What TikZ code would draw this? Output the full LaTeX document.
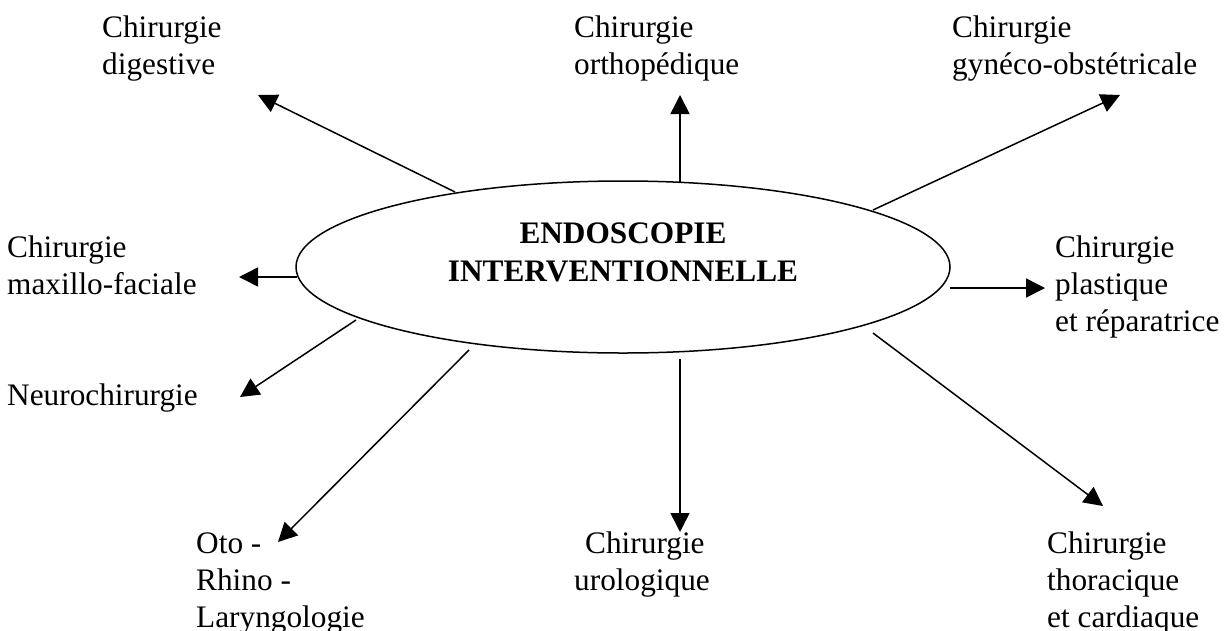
\documentclass[tikz,border=0pt]{standalone}
\usepackage{fontspec}
\setmainfont{Liberation Serif}
\usetikzlibrary{arrows.meta,shapes.geometric}
\begin{document}
\begin{tikzpicture}[x=1pt,y=-1pt,
  lbl/.style={anchor=base west,inner sep=0pt,align=left,font=\fontsize{31.3}{37}\selectfont},
  conn/.style={line width=1.5pt,-{Triangle[length=19pt,width=19pt]}}]
\useasboundingbox (0,0) rectangle (1226,630);
\node[draw,ellipse,line width=1.5pt,minimum width=654pt,minimum height=172pt,inner sep=0pt] (e) at (623,267) {};
\node[anchor=base,align=center,inner sep=0pt,font=\fontsize{31.3}{38}\selectfont\bfseries] (title) at (623,281) {ENDOSCOPIE\\INTERVENTIONNELLE};
% base anchor of a multi-line node lies on its last line
\node[lbl] (dig) at (102,74) {Chirurgie\\digestive};
\node[lbl] (ortho) at (574,74) {Chirurgie\\orthopédique};
\node[lbl] (gyn) at (952,74) {Chirurgie\\gynéco-obstétricale};
\node[lbl] (maxi) at (7,294) {Chirurgie\\maxillo-faciale};
\node[lbl] (plast) at (1055,331) {Chirurgie\\plastique\\et réparatrice};
\node[lbl] (neuro) at (7,405) {Neurochirurgie};
\node[lbl] (orl) at (196,627) {Oto -\\Rhino -\\Laryngologie};
\node[lbl] (uro) at (574,590) {\hspace*{11pt}Chirurgie\\urologique};
\node[lbl] (thor) at (1047,627) {Chirurgie\\thoracique\\et cardiaque};
\coordinate (s1) at (455,192); \coordinate (t1) at (258,95);
\coordinate (s2) at (680,182); \coordinate (t2) at (680,95);
\coordinate (s3) at (873,210); \coordinate (t3) at (1120,95);
\coordinate (s4) at (297,277); \coordinate (t4) at (239,277);
\coordinate (s5) at (950,288); \coordinate (t5) at (1045,288);
\coordinate (s6) at (356,320); \coordinate (t6) at (240,397);
\coordinate (s7) at (469,350); \coordinate (t7) at (278,542);
\coordinate (s8) at (680,359); \coordinate (t8) at (680,532);
\coordinate (s9) at (873,333); \coordinate (t9) at (1103,506);
\foreach \i in {1,...,9} { \draw[conn] (s\i) -- (t\i); }
\end{tikzpicture}
\end{document}
